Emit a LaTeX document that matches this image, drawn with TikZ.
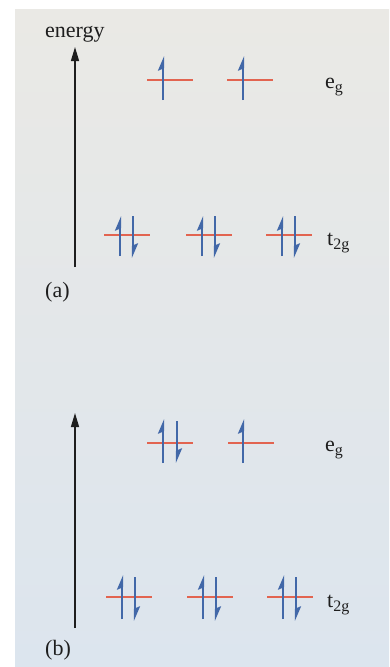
\documentclass[tikz,border=0pt]{standalone}
\usepackage{fontspec}
\setmainfont{Liberation Serif}
\usetikzlibrary{arrows.meta}
\definecolor{lvred}{RGB}{226,100,80}
\definecolor{spinblue}{RGB}{66,104,168}
\definecolor{ink}{RGB}{30,30,30}
\definecolor{papertop}{RGB}{234,233,229}
\definecolor{paperbot}{RGB}{220,229,238}
\newcommand{\subtxt}[1]{\raisebox{-4.5pt}{\fontsize{16}{16}\selectfont #1}}
\begin{document}
\begin{tikzpicture}[x=1pt,y=-1pt,
  lbl/.style={inner sep=0pt, text=ink, font=\fontsize{22}{26}\selectfont},
  axis/.style={draw=ink, line width=1.3pt, -{Triangle[length=14pt,width=8pt]}},
  level/.style={draw=lvred, line width=2pt},
  spinup/.style={draw=spinblue, line width=2.2pt, -{Stealth[left,length=12pt,width=10pt,inset=2pt]}},
  spindown/.style={spinup}
]
\useasboundingbox (0,0) rectangle (389,667);
\fill[white] (0,0) rectangle (389,667);
\shade[top color=papertop,bottom color=paperbot] (15,9) rectangle (389,667);

% ---------- (a) ----------
\node[lbl, anchor=base west] (energy) at (45,37) {energy};
\coordinate (aBot) at (75,267);
\coordinate (aTop) at (75,47);
\draw[axis] (aBot) -- (aTop);

% e_g levels (a)
\foreach \c in {170,250} {
  \draw[level] (\c-23,80) -- (\c+23,80);
  \draw[spinup] (\c-7,100) -- (\c-7,56);
}
\node[lbl, anchor=base west] (ega) at (325,88) {e\subtxt{g}};

% t_2g levels (a)
\foreach \c in {127,209,289} {
  \draw[level] (\c-23,235) -- (\c+23,235);
  \draw[spinup] (\c-7,256) -- (\c-7,216);
  \draw[spindown] (\c+6,216) -- (\c+6,258);
}
\node[lbl, anchor=base west] (t2ga) at (327,245) {t\subtxt{2g}};
\node[lbl, anchor=base west] (la) at (45,297) {(a)};

% ---------- (b) ----------
\coordinate (bBot) at (75,628);
\coordinate (bTop) at (75,413);
\draw[axis] (bBot) -- (bTop);

% e_g levels (b)
\draw[level] (147,443) -- (193,443);
\draw[spinup] (163,463) -- (163,419);
\draw[spindown] (177,421) -- (177,463);
\draw[level] (228,443) -- (274,443);
\draw[spinup] (243,463) -- (243,419);
\node[lbl, anchor=base west] (egb) at (325,451) {e\subtxt{g}};

% t_2g levels (b)
\foreach \c in {129,210,290} {
  \draw[level] (\c-23,597) -- (\c+23,597);
  \draw[spinup] (\c-7,619) -- (\c-7,575);
  \draw[spindown] (\c+6,577) -- (\c+6,621);
}
\node[lbl, anchor=base west] (t2gb) at (327,607) {t\subtxt{2g}};
\node[lbl, anchor=base west] (lb) at (45,655) {(b)};
\end{tikzpicture}
\end{document}
